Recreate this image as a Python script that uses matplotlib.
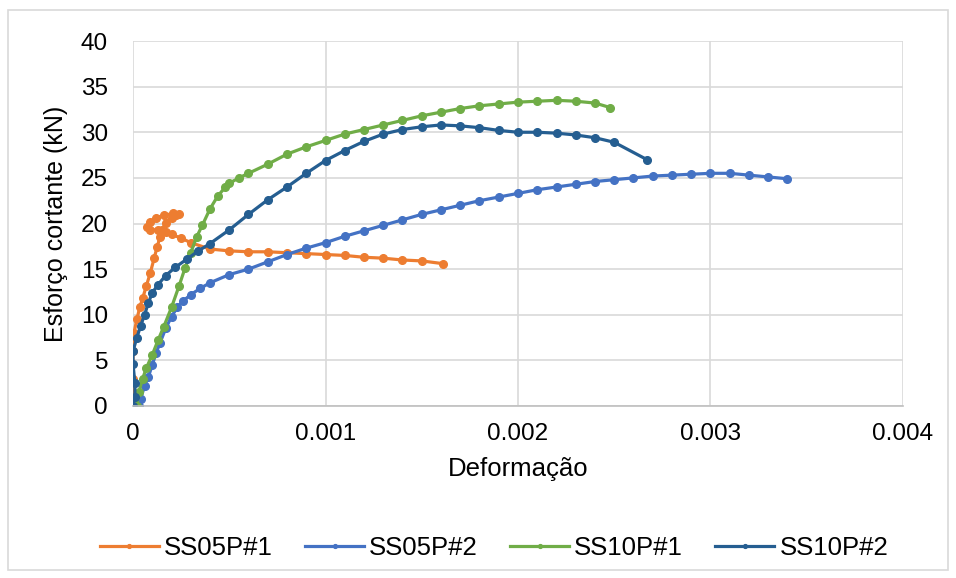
import matplotlib.pyplot as plt
from matplotlib.patches import Rectangle

plt.rcParams['font.family'] = ['Liberation Sans', 'DejaVu Sans']

# SS05P#1
x_ss05p1 = [0, 0, 0, 0.000005, 0.00002, 0.000035, 0.00005, 0.00007, 0.00009, 0.00011,
            0.000125, 0.00014, 0.00015, 0.00017, 0.0002, 0.000225, 0.00024, 0.00021,
            0.00016, 0.00012, 0.00009, 0.000075, 0.00009, 0.00013, 0.00017, 0.0002,
            0.00025, 0.0003, 0.0004, 0.0005, 0.0006, 0.0007, 0.0008, 0.0009, 0.001,
            0.0011, 0.0012, 0.0013, 0.0014, 0.0015, 0.00161]
y_ss05p1 = [0, 3, 6, 8, 9.5, 10.8, 11.8, 13.2, 14.6, 16.2,
            17.4, 18.5, 19.3, 20.1, 20.6, 20.9, 21.0, 21.1,
            20.9, 20.6, 20.2, 19.6, 19.3, 19.3, 19.1, 18.8,
            18.4, 17.9, 17.2, 17.0, 16.9, 16.9, 16.8, 16.7, 16.6,
            16.5, 16.3, 16.2, 16.0, 15.9, 15.6]

# SS05P#2
x_ss05p2 = [0.00003, 0.00004, 0.00006, 0.00008, 0.0001, 0.00012, 0.00014, 0.00017, 0.0002,
            0.00023, 0.00026, 0.0003, 0.00035, 0.0004, 0.0005, 0.0006, 0.0007, 0.0008,
            0.0009, 0.001, 0.0011, 0.0012, 0.0013, 0.0014, 0.0015, 0.0016, 0.0017,
            0.0018, 0.0019, 0.002, 0.0021, 0.0022, 0.0023, 0.0024, 0.0025, 0.0026,
            0.0027, 0.0028, 0.0029, 0.003, 0.0031, 0.0032, 0.0033, 0.0034]
y_ss05p2 = [0, 0.8, 2.2, 3.2, 4.5, 5.8, 6.9, 8.5, 9.8,
            10.8, 11.5, 12.2, 12.9, 13.5, 14.4, 15.0, 15.8, 16.6,
            17.3, 17.9, 18.6, 19.2, 19.8, 20.4, 21.0, 21.5, 22.0,
            22.5, 22.9, 23.3, 23.7, 24.0, 24.3, 24.6, 24.8, 25.0,
            25.2, 25.3, 25.4, 25.5, 25.5, 25.3, 25.1, 24.9]

# SS10P#1
x_ss10p1 = [0.00002, 0.00003, 0.00005, 0.00007, 0.0001, 0.00013, 0.00016, 0.0002, 0.00024,
            0.00027, 0.0003, 0.00033, 0.00036, 0.0004, 0.00044, 0.00048, 0.0005, 0.00055,
            0.0006, 0.0007, 0.0008, 0.0009, 0.001, 0.0011, 0.0012, 0.0013, 0.0014, 0.0015,
            0.0016, 0.0017, 0.0018, 0.0019, 0.002, 0.0021, 0.0022, 0.0023, 0.0024, 0.00248]
y_ss10p1 = [0, 1.5, 3, 4.2, 5.6, 7.2, 8.7, 10.8, 13.2,
            15.1, 16.8, 18.5, 19.8, 21.6, 23.0, 24.0, 24.4, 25.0,
            25.5, 26.5, 27.6, 28.4, 29.1, 29.8, 30.3, 30.8, 31.3, 31.8,
            32.2, 32.6, 32.9, 33.1, 33.3, 33.4, 33.5, 33.4, 33.2, 32.7]

# SS10P#2
x_ss10p2 = [0, 0.00001, 0.00001, 0, 0, 0.00002, 0.00004, 0.00006, 0.00008, 0.0001,
            0.00013, 0.00017, 0.00022, 0.00028, 0.00034, 0.0004, 0.0005, 0.0006, 0.0007,
            0.0008, 0.0009, 0.001, 0.0011, 0.0012, 0.0013, 0.0014, 0.0015, 0.0016, 0.0017,
            0.0018, 0.0019, 0.002, 0.0021, 0.0022, 0.0023, 0.0024, 0.0025, 0.00267]
y_ss10p2 = [0, 1, 2.5, 4.6, 6.0, 7.5, 8.8, 10.0, 11.3, 12.4,
            13.3, 14.3, 15.2, 16.1, 17.0, 17.8, 19.3, 21.0, 22.6,
            24.0, 25.5, 26.9, 28.0, 29.0, 29.8, 30.3, 30.6, 30.8, 30.7,
            30.5, 30.2, 30.0, 30.0, 29.9, 29.7, 29.4, 28.9, 27.0]

series = [
    ('SS05P#1', x_ss05p1, y_ss05p1, '#ED7D31'),
    ('SS05P#2', x_ss05p2, y_ss05p2, '#4472C4'),
    ('SS10P#1', x_ss10p1, y_ss10p1, '#70AD47'),
    ('SS10P#2', x_ss10p2, y_ss10p2, '#255E91'),
]

fig = plt.figure(figsize=(9.56, 5.78), dpi=100)
ax = fig.add_axes([133/956, 1 - 406/578, 770/956, 365/578])

for name, xs, ys, c in series:
    ax.plot(xs, ys, color=c, lw=2.3, marker='o', ms=5.5, label=name)

ax.set_xlim(0, 0.004)
ax.set_ylim(0, 40)
ax.set_xticks([0, 0.001, 0.002, 0.003, 0.004])
ax.set_xticklabels(['0', '0.001', '0.002', '0.003', '0.004'])
ax.set_yticks(range(0, 41, 5))
ax.grid(True, color='#D9D9D9', lw=1.2)
ax.set_axisbelow(True)
for s in ['top', 'right', 'left']:
    ax.spines[s].set_visible(False)
ax.spines['bottom'].set_color('#BFBFBF')
ax.spines['bottom'].set_linewidth(1.2)
ax.tick_params(length=0, labelsize=17.5, pad=12)
ax.tick_params(axis='y', pad=18)

ax.set_xlabel('Deformação', fontsize=18.5, labelpad=9)
ax.set_ylabel('Esforço cortante (kN)', fontsize=18, labelpad=9)

ax.legend(loc='center', bbox_to_anchor=(494/956, 1 - 548/578), bbox_transform=fig.transFigure,
          ncol=4, frameon=False, fontsize=18.5, handlelength=2.3, columnspacing=1.25,
          handletextpad=0.2, markerscale=0.5)

fig.patches.append(Rectangle((8/956, 1 - 570/578), 940/956, 560/578, transform=fig.transFigure,
                             fill=False, ec='#D9D9D9', lw=1.2))

fig.savefig('out.png', dpi=100)
